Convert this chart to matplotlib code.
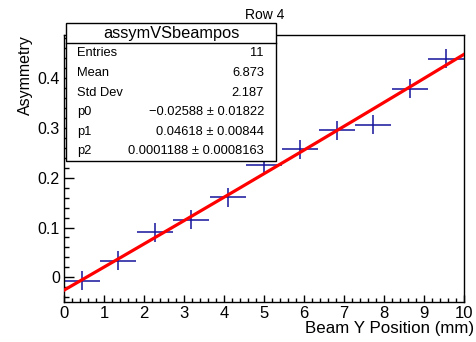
import numpy as np
import matplotlib
matplotlib.use("Agg")
import matplotlib.pyplot as plt

plt.rcParams["font.family"] = ["Liberation Sans", "DejaVu Sans"]

# bin centres (11 bins over 0-10 mm) and measured asymmetry
beam_y = [0.45, 1.36, 2.27, 3.18, 4.09, 5.0, 5.91, 6.82, 7.73, 8.64, 9.55]
asym = [-0.007, 0.033, 0.090, 0.116, 0.161, 0.2255, 0.257, 0.295, 0.306, 0.379, 0.439]
x_err = [0.45] * 11
y_err = [0.019] * 11

# pol2 fit results
p0, p0_err = -0.02588, 0.01822
p1, p1_err = 0.04618, 0.00844
p2, p2_err = 0.0001188, 0.0008163
stats = [("Entries", "11"), ("Mean", "6.873"), ("Std Dev", "2.187"),
         ("p0", f"\u2212{abs(p0):.5f} \u00b1 {p0_err:.5f}"),
         ("p1", f"{p1:.5f} \u00b1 {p1_err:.5f}"),
         ("p2", f"{p2:.7f} \u00b1 {p2_err:.7f}")]

W, H = 477, 342
fig = plt.figure(figsize=(W / 100, H / 100), dpi=100)
ax = fig.add_axes([64 / W, 1 - 302 / H, 400 / W, 267 / H])

ax.errorbar(beam_y, asym, xerr=x_err, yerr=y_err, fmt="none",
            ecolor="#14149b", elinewidth=1.1, capsize=0, zorder=2)
xf = np.linspace(0, 10, 200)
ax.plot(xf, p0 + p1 * xf + p2 * xf ** 2, color="#ff0000", lw=2.3, zorder=3)

ax.set_xlim(0, 10)
ax.set_ylim(-0.0496, 0.4866)
ax.set_xticks(np.arange(0, 11, 1))
ax.set_xticks(np.arange(0, 10.01, 0.2), minor=True)
ax.set_yticks([0, 0.1, 0.2, 0.3, 0.4])
ax.set_yticklabels(["0", "0.1", "0.2", "0.3", "0.4"])
ax.set_yticks(np.arange(-0.04, 0.481, 0.02), minor=True)
ax.tick_params(axis="x", which="major", direction="in", length=5, width=1, labelsize=12, pad=3)
ax.tick_params(axis="x", which="minor", direction="in", length=2.9, width=1)
ax.tick_params(axis="y", which="major", direction="in", length=7.2, width=1, labelsize=11.5, pad=3)
ax.tick_params(axis="y", which="minor", direction="in", length=3.6, width=1)
for s in ax.spines.values():
    s.set_linewidth(1.0)

fig.text(474 / W, 1 - 328 / H, "Beam Y Position (mm)", ha="right", va="center", fontsize=12.2)
fig.text(25 / W, 1 - 35 / H, "Asymmetry", ha="center", va="top", rotation=90, fontsize=11.5)
fig.text(265 / W, 1 - 15 / H, "Row 4", ha="center", va="center", fontsize=10)

# stats box
bx0, bx1, by0, by1, sep = 66, 276, 23, 161, 43
box = plt.Rectangle((bx0 / W, 1 - by1 / H), (bx1 - bx0) / W, (by1 - by0) / H,
                    transform=fig.transFigure, facecolor="white", edgecolor="black", lw=1.0, zorder=5)
fig.patches.append(box)
fig.add_artist(plt.Line2D([bx0 / W, bx1 / W], [1 - sep / H, 1 - sep / H],
                          transform=fig.transFigure, color="black", lw=1.0, zorder=6))
fig.text((bx0 + bx1) / 2 / W, 1 - 33.3 / H, "assymVSbeampos", ha="center", va="center",
         fontsize=11.8, zorder=7)
for i, (name, val) in enumerate(stats):
    y = 1 - (53.3 + 19.6 * i) / H
    fig.text(77 / W, y, name, ha="left", va="center", fontsize=9.3, zorder=7)
    fig.text(264 / W, y, val, ha="right", va="center", fontsize=9.3, zorder=7)

fig.savefig("out.png", dpi=100)
